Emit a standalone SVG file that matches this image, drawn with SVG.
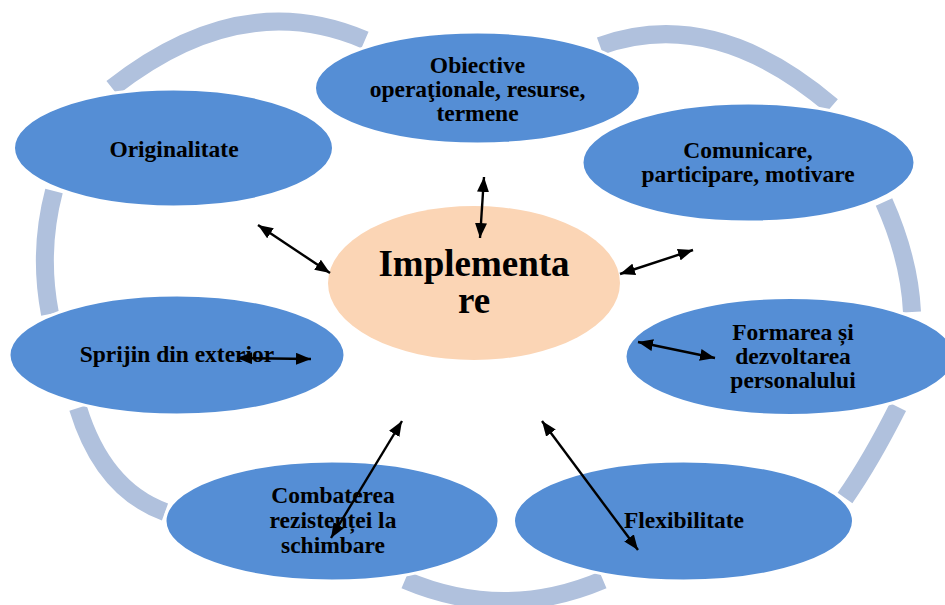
<svg xmlns="http://www.w3.org/2000/svg" width="945" height="605" viewBox="0 0 945 605">
<defs>
<style>
.ring{fill:none;stroke:#B0C1DD;stroke-width:18;stroke-linecap:butt}
.node{fill:#558ED5;stroke:#FFFFFF;stroke-width:3}
.center{fill:#FBD5B5;stroke:none}
.t{font-family:"Liberation Serif","Times New Roman",serif;font-weight:bold;font-size:23.5px;fill:#000;text-anchor:middle}
.tc{font-family:"Liberation Serif","Times New Roman",serif;font-weight:bold;font-size:37px;fill:#000;text-anchor:middle}
.arr{fill:none;stroke:#000;stroke-width:2.4;marker-start:url(#ah);marker-end:url(#ah)}
</style>
<marker id="ah" viewBox="0 0 15 12" refX="15" refY="6" markerWidth="15" markerHeight="12" markerUnits="userSpaceOnUse" orient="auto-start-reverse">
<path d="M0,0 L15,6 L0,12 z" fill="#000"/>
</marker>
</defs>
<rect width="945" height="605" fill="#FFFFFF"/>
<g id="ring">
<path class="ring" d="M112,88 Q241,-13.5 365,40"/>
<path class="ring" d="M600,46 Q713.5,5 832,106"/>
<path class="ring" d="M884,202 Q909.5,259 912,312"/>
<path class="ring" d="M898,407 Q870.5,461.5 845,498"/>
<path class="ring" d="M405,580 Q504,622 603,580"/>
<path class="ring" d="M78,408 Q103,489.5 165,512"/>
<path class="ring" d="M54,191 Q38,251.5 50,314"/>
</g>
<g id="node-obiective">
<ellipse class="node" cx="477.5" cy="88" rx="163" ry="56"/>
<text class="t" x="477.5" y="73">Obiective</text>
<text class="t" x="477.5" y="97">operaţionale, resurse,</text>
<text class="t" x="477.5" y="121">termene</text>
</g>
<g id="node-originalitate">
<ellipse class="node" cx="173.5" cy="148" rx="160" ry="59"/>
<text class="t" x="174" y="157">Originalitate</text>
</g>
<g id="node-comunicare">
<ellipse class="node" cx="748.5" cy="162.5" rx="166.5" ry="59.5"/>
<text class="t" x="748" y="158">Comunicare,</text>
<text class="t" x="748" y="182">participare, motivare</text>
</g>
<g id="node-sprijin">
<ellipse class="node" cx="177" cy="355" rx="168" ry="60"/>
<text class="t" x="177" y="362">Sprijin din exterior</text>
</g>
<g id="node-formarea">
<ellipse class="node" cx="790" cy="356.5" rx="165" ry="59"/>
<text class="t" x="793" y="340">Formarea și</text>
<text class="t" x="793" y="364">dezvoltarea</text>
<text class="t" x="793" y="388">personalului</text>
</g>
<g id="node-combaterea">
<ellipse class="node" cx="332" cy="521" rx="167" ry="60"/>
<text class="t" x="333" y="503">Combaterea</text>
<text class="t" x="333" y="528">rezistenței la</text>
<text class="t" x="333" y="553">schimbare</text>
</g>
<g id="node-flexibilitate">
<ellipse class="node" cx="683.5" cy="521" rx="170" ry="60"/>
<text class="t" x="684" y="528">Flexibilitate</text>
</g>
<g id="node-implementare">
<ellipse class="center" cx="474" cy="283" rx="146" ry="77"/>
<text class="tc" x="474" y="276">Implementa</text>
<text class="tc" x="474" y="313">re</text>
</g>
<g id="connectors">
<line class="arr" x1="484" y1="177" x2="480" y2="238"/>
<line class="arr" x1="258" y1="225" x2="330" y2="273"/>
<line class="arr" x1="620" y1="274" x2="693" y2="250"/>
<line class="arr" x1="237" y1="358" x2="311" y2="359"/>
<line class="arr" x1="638" y1="342" x2="715" y2="358"/>
<line class="arr" x1="402" y1="421" x2="331" y2="538"/>
<line class="arr" x1="542" y1="421" x2="638" y2="550"/>
</g>
</svg>
